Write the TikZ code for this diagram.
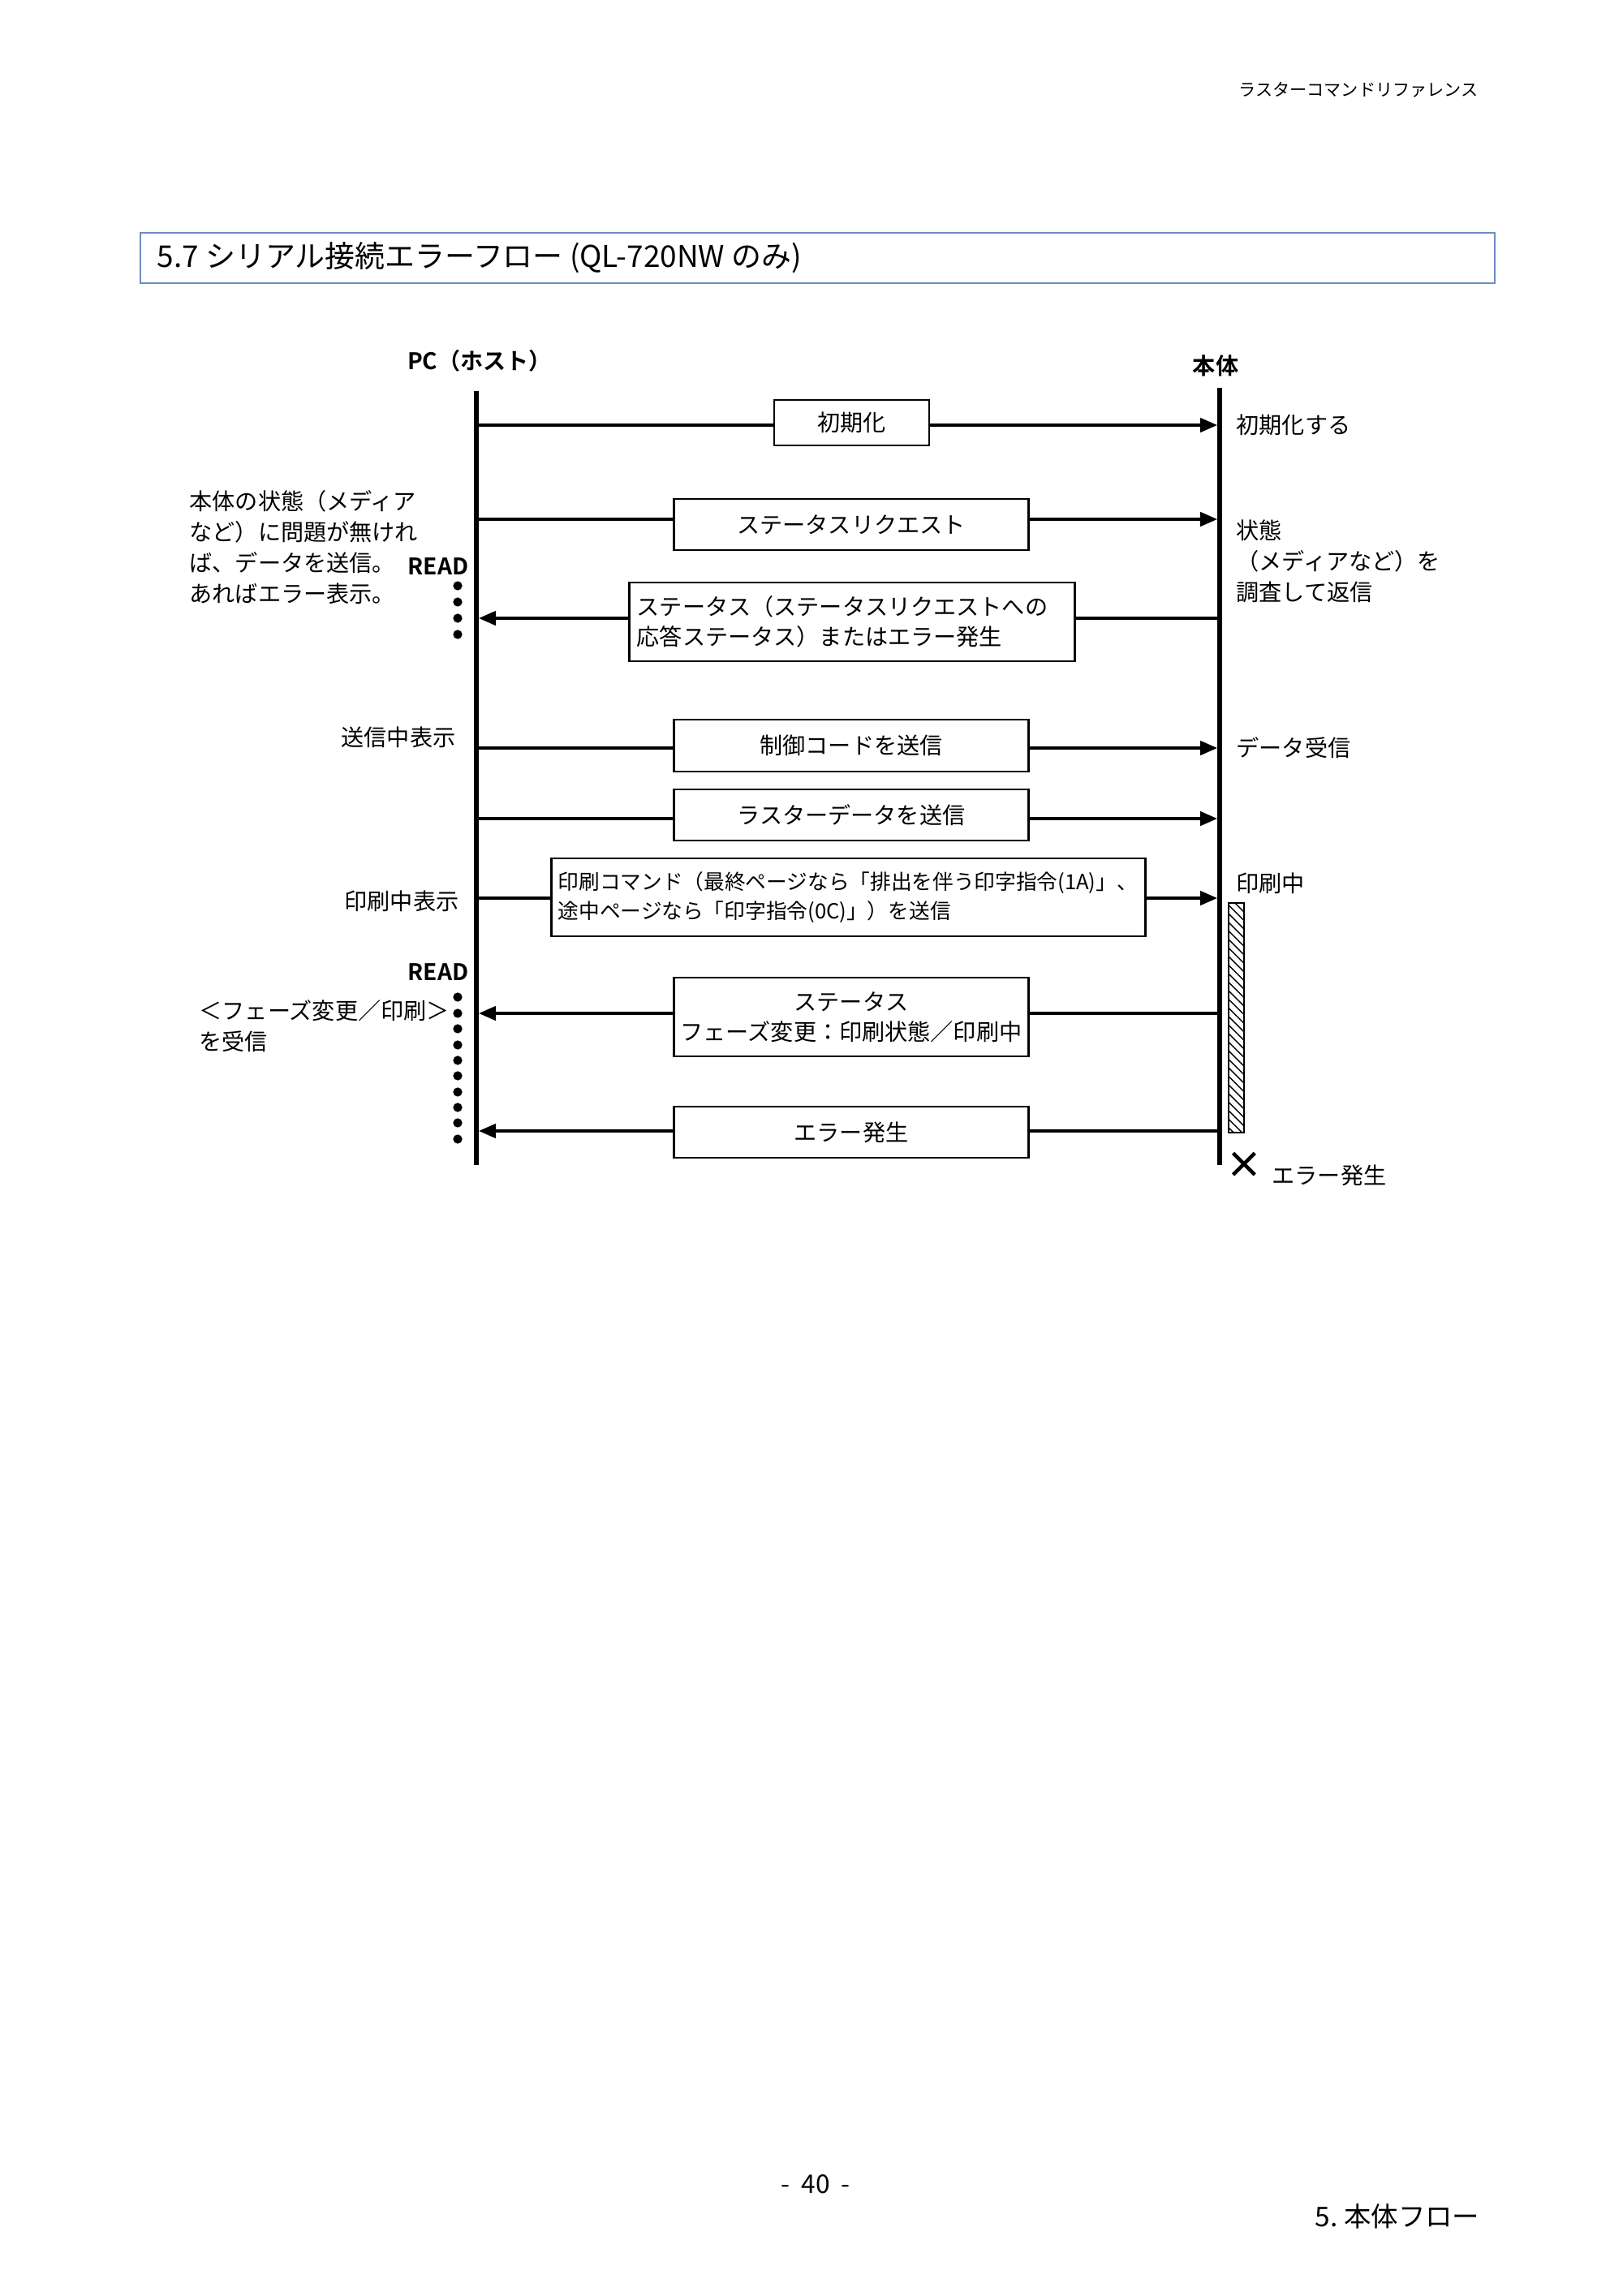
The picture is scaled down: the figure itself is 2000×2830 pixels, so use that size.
\documentclass[tikz,border=0pt]{standalone}
\usepackage{fontspec}
\setmainfont{Noto Sans CJK JP}[BoldFont={Noto Sans CJK JP Bold}]
\usetikzlibrary{arrows.meta,patterns}
\begin{document}
\begin{tikzpicture}[x=0.01cm,y=-0.01cm,
  life/.style={line width=1.6pt},
  msg/.style={line width=0.9pt,-{Triangle[length=6pt,width=5pt]}},
  box/.style={draw,line width=0.8pt,fill=white,inner sep=0pt,font=\fontsize{8}{10.5}\selectfont},
  lbl/.style={font=\fontsize{8}{10.8}\selectfont,inner sep=0pt,align=left},
  dot/.style={circle,fill,inner sep=0pt,minimum size=3.2pt}]
\useasboundingbox (0,0) rectangle (2000,2830);
\node[anchor=east,inner sep=0pt,font=\fontsize{6}{7}\selectfont] (hdr) at (1822,111) {ラスターコマンドリファレンス};
\draw[draw={rgb,255:red,110;green,140;blue,200},line width=0.8pt] (173,287) rectangle (1842,349);
\node[anchor=west,inner sep=0pt,font=\fontsize{10.5}{12}\selectfont] (title) at (193,318) {5.7 シリアル接続エラーフロー (QL-720NW のみ)};
\node[font=\bfseries\fontsize{8}{10}\selectfont,inner sep=0pt] (pc) at (591,445) {PC（ホスト）};
\node[font=\bfseries\fontsize{8}{10}\selectfont,inner sep=0pt] (hon) at (1498,451) {本体};
\coordinate (La) at (587,482); \coordinate (Lb) at (587,1436);
\coordinate (Ra) at (1503,478); \coordinate (Rb) at (1503,1436);
\draw[life] (La) -- (Lb); \draw[life] (Ra) -- (Rb);
\draw[line width=0.7pt,pattern=north west lines] (1514,1113) rectangle (1533,1396);
\foreach \y/\n in {524/a,640/b,922/d,1009/e,1107/f}{\coordinate (l\n) at (587,\y); \coordinate (r\n) at (1500,\y);}
\foreach \y/\n in {762/c,1249/g,1394/h}{\coordinate (l\n) at (590,\y); \coordinate (r\n) at (1503,\y);}
\draw[msg] (la) -- (ra); \draw[msg] (lb) -- (rb); \draw[msg] (rc) -- (lc);
\draw[msg] (ld) -- (rd); \draw[msg] (le) -- (re); \draw[msg] (lf) -- (rf);
\draw[msg] (rg) -- (lg); \draw[msg] (rh) -- (lh);
\node[box,minimum width=1.91cm,minimum height=0.56cm] (b1) at (1049.5,521) {初期化};
\node[box,minimum width=4.36cm,minimum height=0.63cm] (b2) at (1049,646.5) {ステータスリクエスト};
\node[box,minimum width=5.48cm,minimum height=0.97cm,align=left,text width=5.3cm] (b3) at (1050,766.5) {ステータス（ステータスリクエストへの\\応答ステータス）またはエラー発生};
\node[box,minimum width=4.36cm,minimum height=0.64cm] (b4) at (1049,919) {制御コードを送信};
\node[box,minimum width=4.36cm,minimum height=0.63cm] (b5) at (1049,1004.5) {ラスターデータを送信};
\node[box,minimum width=7.31cm,minimum height=0.96cm,align=left,text width=7.15cm,font=\fontsize{7.3}{10.5}\selectfont] (b6) at (1045.5,1106) {印刷コマンド（最終ページなら「排出を伴う印字指令(1A)」、\\途中ページなら「印字指令(0C)」）を送信};
\node[box,minimum width=4.36cm,minimum height=0.97cm,align=center] (b7) at (1049,1253.5) {ステータス\\フェーズ変更：印刷状態／印刷中};
\node[box,minimum width=4.36cm,minimum height=0.63cm] (b8) at (1049,1395.5) {エラー発生};
\node[lbl,anchor=west] (t1) at (1523,524) {初期化する};
\node[lbl,anchor=north west] (t2) at (1523,640) {状態\\（メディアなど）を\\調査して返信};
\node[lbl,anchor=west] (t3) at (1523,922) {データ受信};
\node[lbl,anchor=west] (t4) at (1523,1089) {印刷中};
\node[lbl,anchor=west] (t5) at (1567,1449) {エラー発生};
\node[font=\bfseries\fontsize{13}{13}\selectfont,inner sep=0pt] (x) at (1533,1436) {×};
\node[lbl,anchor=north west] (s1) at (233,604) {本体の状態（メディア\\など）に問題が無けれ\\ば、データを送信。\\あればエラー表示。};
\node[lbl,anchor=east] (s2) at (562,909) {送信中表示};
\node[lbl,anchor=east] (s3) at (566,1111) {印刷中表示};
\node[lbl,anchor=north west] (s4) at (245,1232) {＜フェーズ変更／印刷＞\\を受信};
\node[font=\bfseries\fontsize{8}{10}\selectfont,inner sep=0pt] (r1) at (540,698) {READ};
\node[font=\bfseries\fontsize{8}{10}\selectfont,inner sep=0pt] (r2) at (540,1198) {READ};
\foreach \y in {722,742,762,782} \node[dot] at (564,\y) {};
\foreach \y in {1229,1249,1268,1288,1307,1326,1346,1365,1384,1404} \node[dot] at (564,\y) {};
\node[inner sep=0pt,font=\fontsize{9}{10}\selectfont] (pg) at (1005,2692) {-\ \ 40\ \ -};
\node[anchor=east,inner sep=0pt,font=\fontsize{9.5}{11}\selectfont] (ft) at (1824,2732) {5.\ 本体フロー};
\end{tikzpicture}
\end{document}
